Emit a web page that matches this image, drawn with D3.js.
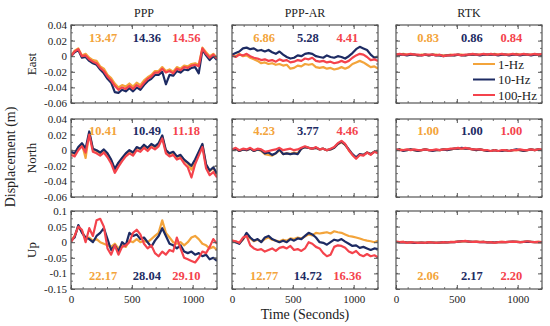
<!DOCTYPE html>
<html>
<head>
<meta charset="utf-8">
<script src="https://cdn.jsdelivr.net/npm/d3@7"></script>
<style>
  body { margin: 0; background: #fff; }
  svg text { font-family: "Liberation Serif", "Times New Roman", serif; }
</style>
</head>
<body>
<svg id="chart" width="550" height="326"></svg>
<script>
// sample times (seconds)
const timeSec = [0,30,60,90,120,150,180,210,240,270,300,330,360,390,420,450,480,510,540,570,600,
  630,660,690,720,750,780,810,840,870,900,930,960,990,1020,1050,1080,1110,1140,1170,1200];

const columns = ["PPP", "PPP-AR", "RTK"];
const rows = ["East", "North", "Up"];
const rates = ["1-Hz", "10-Hz", "100-Hz"];
const rateColors = ["#f3a43b", "#1d2b63", "#f4434c"];

// numbers printed inside the panels, per row, per column, per rate
const statsEast = [["13.47", "14.36", "14.56"], ["6.86", "5.28", "4.41"], ["0.83", "0.86", "0.84"]];
const statsNorth = [["10.41", "10.49", "11.18"], ["4.23", "3.77", "4.46"], ["1.00", "1.00", "1.00"]];
const statsUp = [["22.17", "28.04", "29.10"], ["12.77", "14.72", "16.36"], ["2.06", "2.17", "2.20"]];

const yTicksEN = [-0.06, -0.04, -0.02, 0, 0.02, 0.04];
const yTicksUp = [-0.15, -0.1, -0.05, 0, 0.05, 0.1];
const xTicks = [0, 500, 1000];

// PPP East
const pppEast1 = [0.001,0.007,0.010,0.001,0.003,-0.002,-0.005,-0.006,-0.013,-0.016,-0.024,-0.028,-0.035,-0.040,-0.037,-0.039,-0.035,-0.039,-0.034,-0.037,-0.031,
  -0.027,-0.024,-0.019,-0.019,-0.014,-0.019,-0.017,-0.020,-0.014,-0.016,-0.012,-0.013,-0.010,-0.009,-0.011,0.011,0.005,0.000,0.003,-0.002];
const pppEast10 = [0.000,0.005,0.008,-0.002,-0.001,-0.006,-0.009,-0.011,-0.017,-0.022,-0.029,-0.034,-0.046,-0.047,-0.043,-0.045,-0.041,-0.045,-0.040,-0.043,-0.037,
  -0.032,-0.029,-0.024,-0.024,-0.020,-0.036,-0.024,-0.025,-0.019,-0.021,-0.017,-0.018,-0.015,-0.014,-0.022,0.008,0.001,-0.005,0.000,-0.005];
const pppEast100 = [0.000,0.006,0.009,0.000,0.001,-0.004,-0.007,-0.009,-0.015,-0.019,-0.026,-0.031,-0.038,-0.043,-0.040,-0.042,-0.038,-0.042,-0.037,-0.040,-0.034,
  -0.029,-0.026,-0.021,-0.021,-0.016,-0.021,-0.019,-0.022,-0.016,-0.018,-0.014,-0.015,-0.012,-0.011,-0.013,0.010,0.003,-0.002,0.002,-0.003];

// PPP-AR East
const arEast1 = [0.001,0.000,0.003,0.000,0.001,-0.002,-0.004,-0.006,-0.009,-0.008,-0.010,-0.009,-0.011,-0.010,-0.012,-0.011,-0.016,-0.015,-0.012,-0.013,-0.010,
  -0.011,-0.010,-0.014,-0.015,-0.014,-0.016,-0.015,-0.017,-0.016,-0.014,-0.016,-0.014,-0.010,-0.008,-0.006,-0.008,-0.011,-0.014,-0.013,-0.016];
const arEast10 = [0.002,0.004,0.006,0.010,0.011,0.009,0.010,0.007,0.008,0.006,0.008,0.005,0.003,0.006,0.002,-0.001,-0.003,-0.002,0.001,0.000,0.003,
  0.004,0.003,0.000,-0.001,-0.002,0.001,-0.001,-0.002,0.000,-0.001,-0.003,0.000,0.004,0.009,0.012,0.010,0.008,0.002,-0.002,-0.001];
const arEast100 = [0.001,-0.001,0.002,0.001,0.003,0.000,-0.002,-0.003,-0.005,-0.004,-0.006,-0.005,-0.007,-0.004,-0.006,-0.005,-0.008,-0.007,-0.005,-0.006,-0.003,
  -0.004,-0.002,-0.006,-0.007,-0.006,-0.008,-0.007,-0.009,-0.008,-0.006,-0.008,-0.006,-0.002,0.001,0.003,0.002,-0.001,-0.005,-0.004,-0.006];

// RTK East
const rtkEast1 = [0.002,0.002,0.003,0.002,0.002,0.002,0.001,0.002,0.002,0.001,0.002,0.002,0.001,0.001,0.001,0.002,0.001,0.002,0.002,0.001,0.002,
  0.002,0.002,0.002,0.002,0.002,0.002,0.003,0.002,0.002,0.002,0.002,0.002,0.003,0.002,0.002,0.002,0.002,0.002,0.002,0.002];
const rtkEast10 = [0.002,0.002,0.002,0.001,0.002,0.002,0.001,0.001,0.002,0.001,0.002,0.001,0.001,0.000,0.001,0.001,0.001,0.002,0.001,0.001,0.002,
  0.002,0.002,0.001,0.002,0.002,0.002,0.002,0.001,0.002,0.002,0.001,0.002,0.002,0.001,0.002,0.002,0.001,0.002,0.002,0.002];
const rtkEast100 = [0.002,0.003,0.002,0.002,0.003,0.002,0.002,0.001,0.002,0.002,0.002,0.001,0.002,0.000,0.001,0.001,0.002,0.002,0.001,0.002,0.002,
  0.003,0.002,0.002,0.003,0.002,0.003,0.002,0.002,0.003,0.002,0.002,0.003,0.002,0.002,0.003,0.002,0.002,0.003,0.002,0.003];

// PPP North
const pppNorth1 = [-0.003,-0.005,0.003,0.008,-0.010,0.022,0.001,-0.001,-0.004,0.000,-0.005,-0.013,-0.025,-0.017,-0.011,-0.005,-0.001,-0.004,0.003,0.001,0.006,
  0.002,0.007,0.004,0.008,0.018,-0.001,-0.005,-0.003,-0.009,-0.007,-0.013,-0.017,-0.025,-0.015,-0.004,0.007,-0.019,-0.027,-0.023,-0.031];
const pppNorth10 = [-0.002,-0.004,0.004,0.009,0.002,0.024,0.002,0.000,-0.003,0.001,-0.004,-0.012,-0.024,-0.016,-0.010,-0.004,0.000,-0.003,0.004,0.002,0.007,
  0.003,0.008,0.005,0.009,0.019,0.000,-0.004,-0.002,-0.008,-0.006,-0.012,-0.016,-0.020,-0.012,-0.002,0.008,-0.018,-0.026,-0.022,-0.030];
const pppNorth100 = [-0.006,-0.008,0.000,0.005,-0.003,0.020,-0.002,-0.004,-0.007,-0.003,-0.009,-0.017,-0.029,-0.021,-0.014,-0.008,-0.004,-0.007,0.000,-0.002,0.003,
  -0.001,0.004,0.001,0.005,0.015,-0.004,-0.008,-0.006,-0.012,-0.010,-0.017,-0.022,-0.035,-0.018,-0.007,0.004,-0.023,-0.032,-0.028,-0.035];

// PPP-AR North
const arNorth1 = [0.000,0.002,-0.001,0.001,0.000,0.002,-0.001,0.001,-0.001,-0.005,-0.006,-0.007,-0.004,0.000,-0.005,-0.004,-0.005,-0.003,-0.004,0.002,0.004,
  0.003,0.002,0.003,0.001,0.002,0.000,0.001,0.003,0.008,0.010,0.007,0.000,-0.006,-0.010,-0.006,-0.006,-0.003,-0.005,-0.002,-0.003];
const arNorth10 = [0.000,0.002,-0.001,0.001,0.000,0.002,-0.001,0.001,0.000,-0.004,-0.003,-0.006,-0.004,0.001,-0.005,-0.004,-0.005,-0.004,-0.005,0.002,0.004,
  0.003,0.002,0.003,0.001,0.002,0.000,0.001,0.003,0.008,0.011,0.007,0.001,-0.005,-0.009,-0.005,-0.006,-0.003,-0.005,-0.002,-0.003];
const arNorth100 = [0.001,0.003,0.000,0.002,0.001,0.003,0.000,0.002,0.001,-0.002,-0.001,0.000,0.001,0.003,0.000,0.001,0.002,0.000,0.001,0.003,0.005,
  0.003,0.002,0.004,0.001,0.002,0.000,0.002,0.004,0.009,0.012,0.008,0.000,-0.006,-0.011,-0.006,-0.007,-0.003,-0.006,-0.002,-0.004];

// RTK North
const rtkNorth1 = [0.000,0.001,0.000,0.000,0.001,0.000,-0.001,0.000,0.001,0.000,0.000,0.000,0.000,0.001,0.001,0.001,0.002,0.002,0.002,0.002,0.002,
  0.001,0.000,0.001,0.000,-0.001,-0.001,0.000,-0.001,-0.001,0.000,-0.001,0.000,0.000,0.000,-0.001,0.000,0.001,0.000,0.001,0.000];
const rtkNorth10 = [0.000,0.001,-0.001,0.000,0.001,0.000,-0.001,0.000,0.001,0.000,-0.001,0.000,0.000,0.001,0.000,0.001,0.002,0.002,0.003,0.002,0.002,
  0.001,0.000,0.001,0.000,-0.001,-0.001,0.000,-0.001,-0.001,0.000,-0.001,0.000,0.001,0.000,-0.001,0.000,0.001,0.000,0.001,0.000];
const rtkNorth100 = [0.001,0.000,0.000,0.001,0.000,0.001,0.000,0.000,0.001,0.000,0.000,0.001,0.000,0.001,0.001,0.002,0.002,0.003,0.002,0.003,0.002,
  0.001,0.001,0.001,0.000,0.000,-0.001,0.000,-0.001,0.000,0.000,-0.001,0.000,0.000,0.001,0.000,0.000,0.001,0.000,0.001,0.001];

// PPP Up
const pppUp1 = [0.005,0.020,0.050,0.035,0.010,0.015,0.005,0.010,0.000,-0.005,-0.010,-0.015,-0.005,-0.020,-0.010,-0.015,0.005,0.000,0.010,0.000,0.005,
  0.000,0.010,0.020,0.030,0.070,0.030,0.015,0.000,-0.005,0.000,-0.010,0.000,0.015,0.020,0.010,-0.005,-0.010,-0.020,-0.015,-0.025];
const pppUp10 = [0.005,0.015,0.055,0.030,0.015,0.010,0.000,0.020,0.030,0.045,0.010,-0.025,-0.010,-0.030,0.000,-0.010,0.030,0.020,0.025,0.010,0.015,
  0.000,-0.015,0.005,0.020,0.045,0.020,-0.005,-0.010,-0.020,-0.010,-0.030,-0.035,-0.030,-0.040,-0.035,-0.045,-0.040,-0.055,-0.050,-0.060];
const pppUp100 = [0.000,0.020,0.050,0.040,0.000,0.045,0.020,0.070,0.075,0.050,-0.020,-0.040,-0.010,-0.040,-0.015,-0.010,0.000,0.030,0.040,0.025,-0.005,
  -0.020,-0.010,-0.035,-0.045,-0.030,-0.040,-0.025,-0.030,0.015,-0.020,-0.050,-0.055,-0.060,-0.065,-0.050,-0.030,-0.035,-0.015,0.010,-0.005];

// PPP-AR Up
const arUp1 = [0.005,0.002,-0.003,0.008,0.025,0.012,0.003,0.008,0.002,0.010,0.015,0.008,0.005,0.002,0.008,0.005,0.012,0.010,0.015,0.012,0.018,
  0.025,0.022,0.030,0.028,0.030,0.032,0.028,0.035,0.032,0.030,0.025,0.020,0.018,0.015,0.012,0.008,0.005,0.003,0.000,0.005];
const arUp10 = [0.005,0.000,-0.005,0.010,0.030,0.015,0.005,0.010,0.000,0.015,0.020,0.010,0.005,0.000,0.005,0.000,0.010,0.005,0.012,0.010,0.020,
  0.030,0.025,0.015,0.000,-0.002,-0.008,0.000,0.008,0.005,0.010,0.002,-0.005,-0.012,-0.010,-0.018,-0.015,-0.020,-0.025,-0.020,-0.022];
const arUp100 = [0.005,0.003,-0.002,0.015,0.020,-0.010,-0.020,-0.025,-0.022,-0.030,-0.025,-0.020,-0.028,-0.018,-0.015,-0.020,-0.012,-0.025,-0.022,-0.028,-0.020,
  0.000,-0.005,-0.015,-0.020,-0.035,-0.045,-0.040,-0.015,-0.010,-0.012,-0.018,-0.030,-0.035,-0.028,-0.040,-0.045,-0.038,-0.045,-0.042,-0.048];

// RTK Up
const rtkUp1 = [0.001,0.000,0.001,-0.001,0.000,-0.002,-0.001,-0.001,-0.002,0.000,-0.001,-0.001,-0.002,0.000,-0.001,0.000,0.001,0.002,0.002,0.003,0.002,
  0.001,0.002,0.001,0.001,0.000,0.000,-0.001,0.000,0.001,0.000,0.001,0.001,0.002,0.000,0.001,0.002,0.001,0.000,0.001,0.000];
const rtkUp10 = [0.001,-0.001,0.000,-0.001,-0.001,-0.002,-0.002,-0.001,-0.002,-0.001,-0.001,-0.002,-0.001,0.000,-0.001,0.000,0.000,0.002,0.003,0.003,0.002,
  0.001,0.001,0.000,0.001,-0.001,0.000,-0.001,0.000,0.000,0.000,0.001,0.002,0.001,0.000,0.001,0.002,0.001,0.000,0.000,0.000];
const rtkUp100 = [0.002,0.000,0.001,-0.002,0.000,-0.001,-0.002,-0.001,-0.002,0.000,-0.001,-0.002,-0.001,0.000,-0.001,0.001,0.000,0.002,0.003,0.004,0.002,
  0.001,0.002,0.000,0.001,-0.001,0.000,-0.002,0.000,0.001,0.000,0.001,0.002,0.001,0.000,0.001,0.003,0.001,0.000,0.001,0.000];

const series = [
  [[pppEast1, pppEast10, pppEast100], [arEast1, arEast10, arEast100], [rtkEast1, rtkEast10, rtkEast100]],
  [[pppNorth1, pppNorth10, pppNorth100], [arNorth1, arNorth10, arNorth100], [rtkNorth1, rtkNorth10, rtkNorth100]],
  [[pppUp1, pppUp10, pppUp100], [arUp1, arUp10, arUp100], [rtkUp1, rtkUp10, rtkUp100]]
];
const stats = [statsEast, statsNorth, statsUp];
const yTicks = [yTicksEN, yTicksEN, yTicksUp];
const yMinor = [0.01, 0.01, 0.025];

const colLeft = [71, 232, 396];
const rowTop = [25, 119, 211];
const pw = 146, ph = 78;

const svg = d3.select("#chart");
const fmt = d => d === 0 ? "0" : String(d);

rows.forEach((rowName, r) => {
  const yt = yTicks[r];
  const y = d3.scaleLinear()
    .domain([yt[0], yt[yt.length - 1]])
    .range([rowTop[r] + ph, rowTop[r]]);
  const minorY = d3.range(yt[0], yt[yt.length - 1] + 1e-9, yMinor[r]);

  columns.forEach((colName, c) => {
    const x = d3.scaleLinear().domain([0, 1200]).range([colLeft[c], colLeft[c] + pw]);
    const g = svg.append("g");

    g.append("clipPath").attr("id", `clip${r}${c}`)
      .append("rect")
      .attr("x", colLeft[c]).attr("y", rowTop[r]).attr("width", pw).attr("height", ph);

    const line = d3.line()
      .x((d, i) => x(timeSec[i]))
      .y(d => y(d));

    series[r][c].forEach((vals, k) => {
      g.append("path")
        .datum(vals)
        .attr("clip-path", `url(#clip${r}${c})`)
        .attr("fill", "none")
        .attr("stroke", rateColors[k])
        .attr("stroke-width", 2.2)
        .attr("stroke-linejoin", "round")
        .attr("d", line);
    });

    // minor ticks, all four sides
    const minorX = d3.range(0, 1201, 100);
    g.selectAll(".mxb").data(minorX).enter().append("line")
      .attr("x1", d => x(d)).attr("x2", d => x(d))
      .attr("y1", rowTop[r] + ph).attr("y2", rowTop[r] + ph - 2)
      .attr("stroke", "#555").attr("stroke-width", 0.8);
    g.selectAll(".mxt").data(minorX).enter().append("line")
      .attr("x1", d => x(d)).attr("x2", d => x(d))
      .attr("y1", rowTop[r]).attr("y2", rowTop[r] + 2)
      .attr("stroke", "#555").attr("stroke-width", 0.8);
    g.selectAll(".myl").data(minorY).enter().append("line")
      .attr("x1", colLeft[c]).attr("x2", colLeft[c] + 2)
      .attr("y1", d => y(d)).attr("y2", d => y(d))
      .attr("stroke", "#555").attr("stroke-width", 0.8);
    g.selectAll(".myr").data(minorY).enter().append("line")
      .attr("x1", colLeft[c] + pw).attr("x2", colLeft[c] + pw - 2)
      .attr("y1", d => y(d)).attr("y2", d => y(d))
      .attr("stroke", "#555").attr("stroke-width", 0.8);

    // major ticks
    const left = g.append("g")
      .attr("transform", `translate(${colLeft[c]},0)`)
      .call(d3.axisLeft(y).tickValues(yt).tickSize(-4).tickPadding(4)
        .tickFormat(c === 0 ? fmt : () => ""));
    const right = g.append("g")
      .attr("transform", `translate(${colLeft[c] + pw},0)`)
      .call(d3.axisRight(y).tickValues(yt).tickSize(-4).tickFormat(() => ""));
    const top = g.append("g")
      .attr("transform", `translate(0,${rowTop[r]})`)
      .call(d3.axisTop(x).tickValues(xTicks).tickSize(-4).tickFormat(() => ""));
    const bottom = g.append("g")
      .attr("transform", `translate(0,${rowTop[r] + ph})`)
      .call(d3.axisBottom(x).tickValues(xTicks).tickSize(-4).tickPadding(6)
        .tickFormat(r === 2 ? d3.format("d") : () => ""));
    [left, right, top, bottom].forEach(a => {
      a.select(".domain").remove();
      a.selectAll("line").attr("stroke", "#555");
      a.selectAll("text")
        .style("font-family", '"Liberation Serif", serif')
        .style("font-size", "11px")
        .attr("fill", "#222");
    });

    g.append("rect")
      .attr("x", colLeft[c]).attr("y", rowTop[r])
      .attr("width", pw).attr("height", ph)
      .attr("fill", "none").attr("stroke", "#555").attr("stroke-width", 1.2);

    // rms numbers
    const sy = r === 2 ? rowTop[r] + ph - 9 : rowTop[r] + (r === 0 ? 17 : 16);
    const offs = [0.22, 0.52, 0.79];
    stats[r][c].forEach((s, k) => {
      g.append("text")
        .attr("x", colLeft[c] + pw * offs[k])
        .attr("y", sy)
        .attr("text-anchor", "middle")
        .attr("fill", rateColors[k])
        .style("font-size", "12.5px")
        .style("font-weight", "bold")
        .text(s);
    });

    if (r === 0) {
      svg.append("text")
        .attr("x", colLeft[c] + pw / 2)
        .attr("y", 17)
        .attr("text-anchor", "middle")
        .style("font-size", "12px")
        .attr("fill", "#222")
        .text(colName);
    }
  });

  svg.append("text")
    .attr("transform", `translate(36,${rowTop[r] + ph / 2}) rotate(-90)`)
    .attr("text-anchor", "middle")
    .style("font-size", "13px")
    .attr("fill", "#222")
    .text(rowName);
});

// legend inside the RTK East panel
const lg = svg.append("g").attr("transform", `translate(${colLeft[2] + 77},${rowTop[0] + 39})`);
rates.forEach((name, k) => {
  lg.append("line")
    .attr("x1", 0).attr("x2", 22)
    .attr("y1", k * 15.5).attr("y2", k * 15.5)
    .attr("stroke", rateColors[k]).attr("stroke-width", 2);
  lg.append("text")
    .attr("x", 25).attr("y", k * 15.5 + 4.5)
    .style("font-size", "13px")
    .attr("fill", "#222")
    .text(name);
});

svg.append("text")
  .attr("transform", "translate(15,157) rotate(-90)")
  .attr("text-anchor", "middle")
  .style("font-size", "14px")
  .attr("fill", "#222")
  .text("Displacement (m)");

svg.append("text")
  .attr("x", 305)
  .attr("y", 319)
  .attr("text-anchor", "middle")
  .style("font-size", "14px")
  .attr("fill", "#222")
  .text("Time (Seconds)");
</script>
</body>
</html>
